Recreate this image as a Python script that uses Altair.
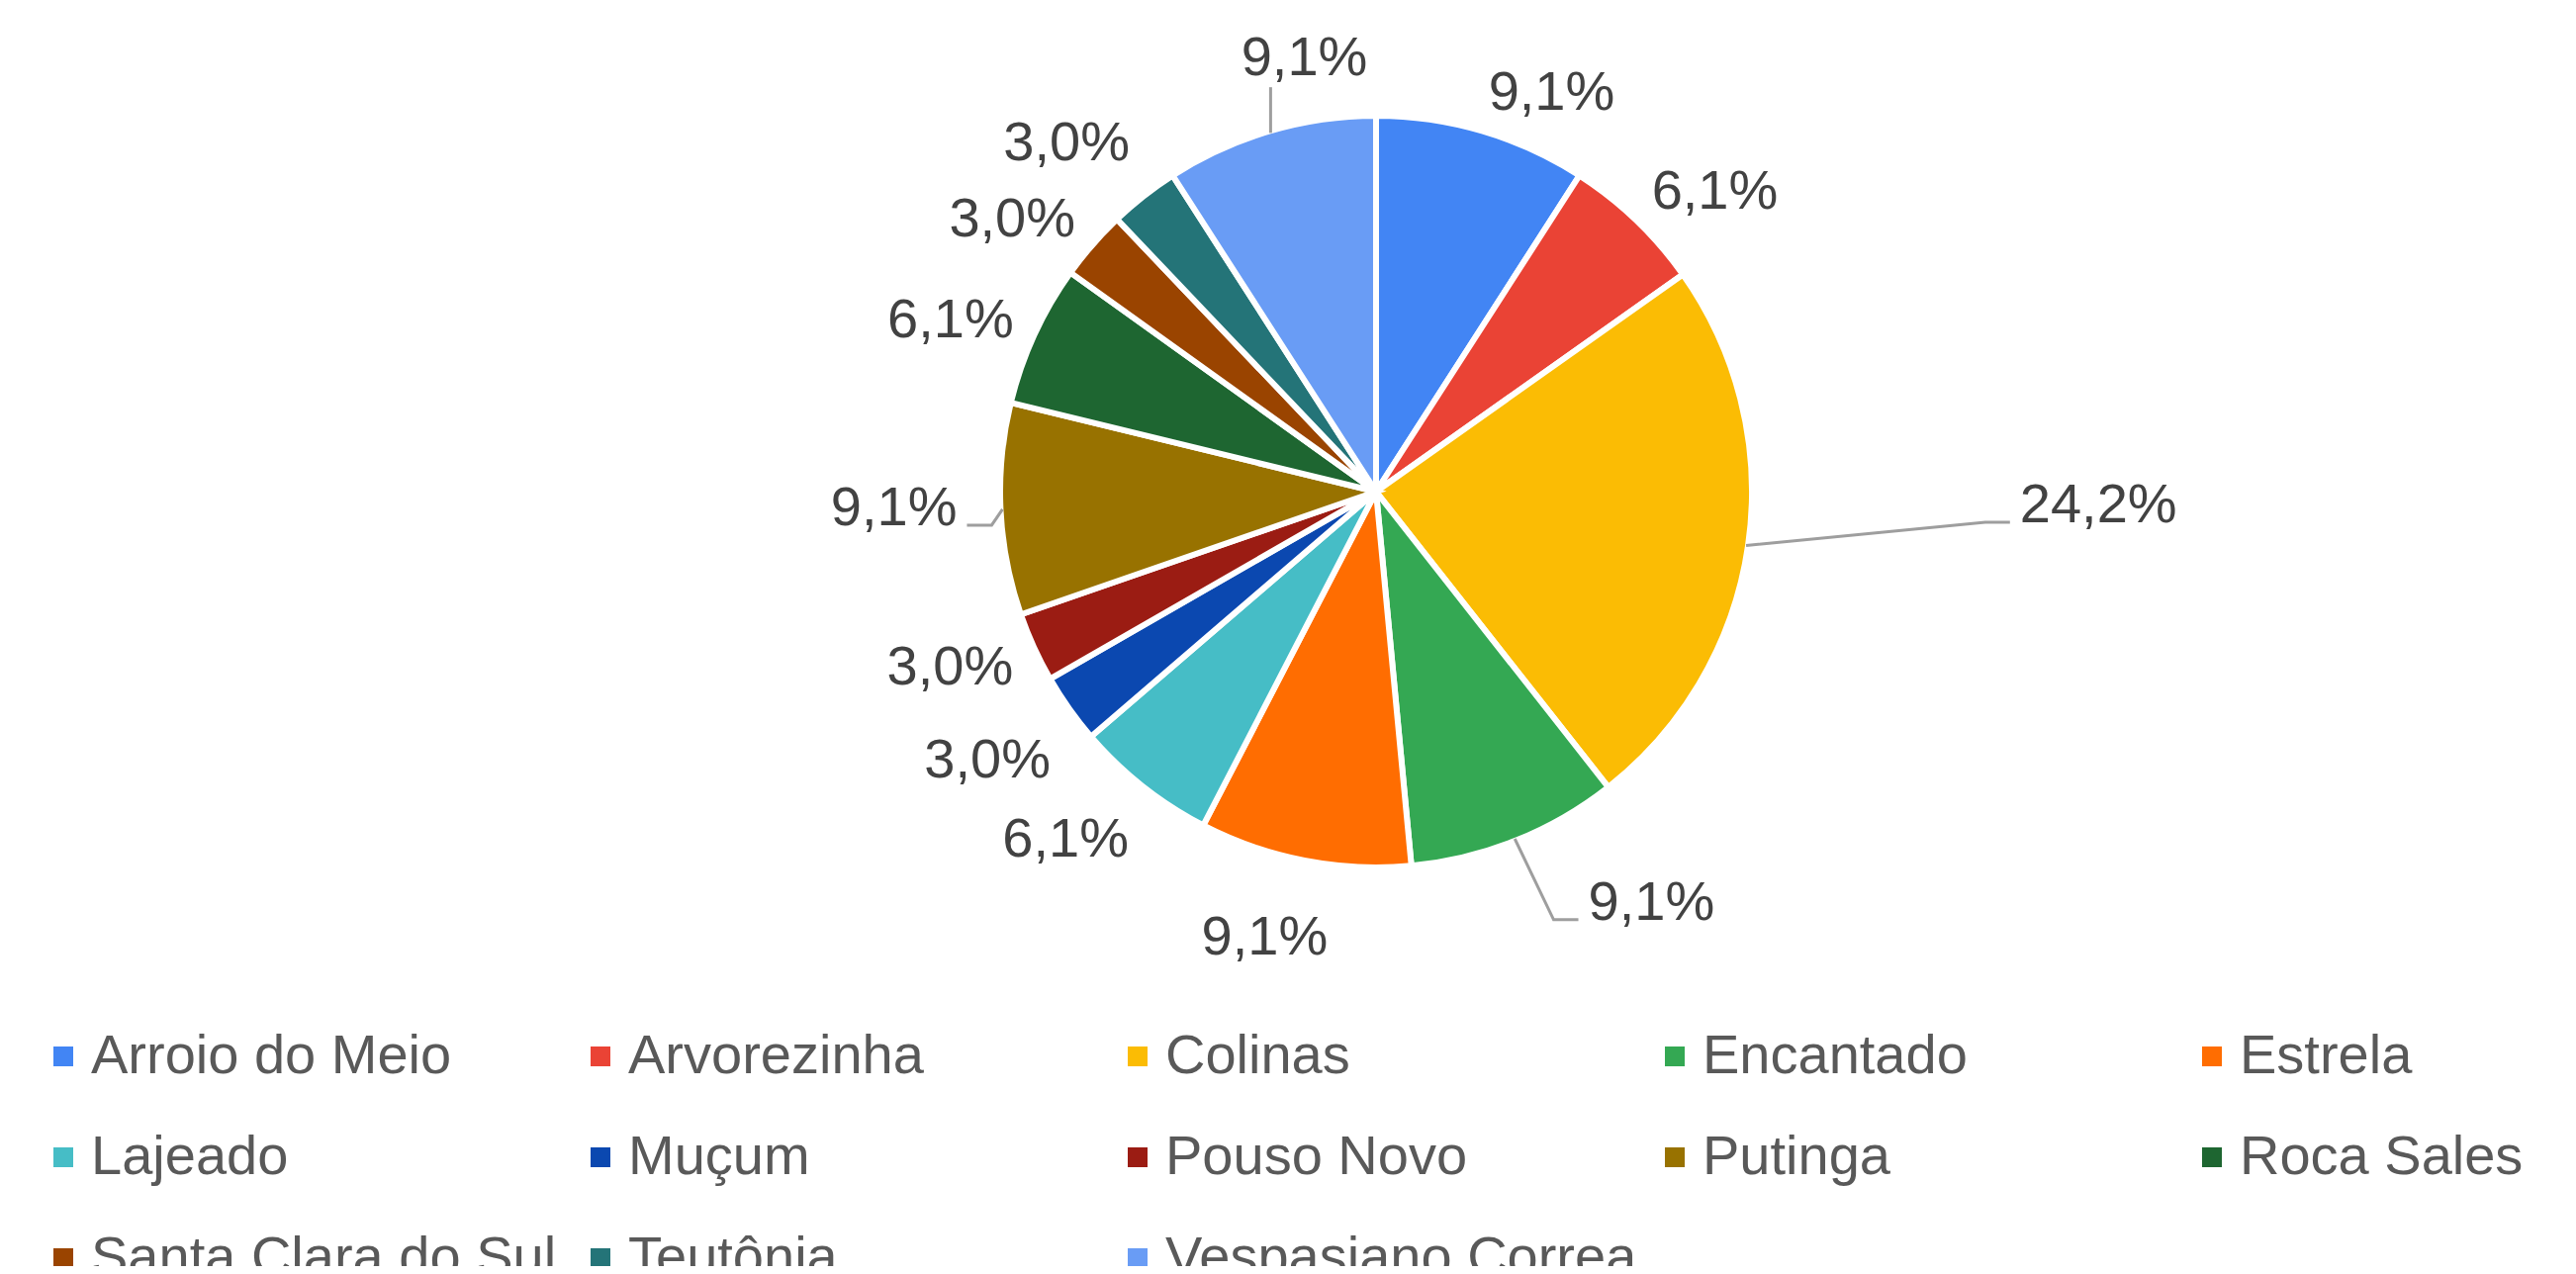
import numpy as np
import pandas as pd
import altair as alt

# ---------------- data ----------------
categories = ["Arroio do Meio", "Arvorezinha", "Colinas", "Encantado", "Estrela",
              "Lajeado", "Muçum", "Pouso Novo", "Putinga", "Roca Sales",
              "Santa Clara do Sul", "Teutônia", "Vespasiano Correa"]
shares = [9.1, 6.1, 24.2, 9.1, 9.1, 6.1, 3.0, 3.0, 9.1, 6.1, 3.0, 3.0, 9.1]
colors = ["#4285F4", "#EA4335", "#FBBC04", "#34A853", "#FF6D01", "#46BDC6",
          "#0B48B0", "#9B1C13", "#987200", "#1E6631", "#9A4400", "#247478", "#699CF5"]

# ---------------- layout / style ----------------
W, H = 2588, 1272
CX, CY = 1383, 489
R_OUT = 380
R_EDGE = 378
R_LABEL = 403
FONT = "Liberation Sans"
LABEL_SIZE = 56
HALF_CAP = 20
LABEL_COLOR = "#424242"
LEGEND_COLOR = "#595959"
LEADER_COLOR = "#9e9e9e"

# label placement nudges (px) for labels that are displaced from their slice
LABEL_NUDGE = {"Colinas": (252, -50), "Encantado": (65, 20), "Estrela": (28, 33),
               "Putinga": (-21, -6), "Vespasiano Correa": (105, -35),
               "Teutônia": (0, -22), "Muçum": (0, 25), "Lajeado": (0, 17)}
LEADERS = ["Colinas", "Encantado", "Putinga", "Vespasiano Correa"]

CHAR_W = {",": 0.278, "%": 0.889}


def text_w(s):
    return sum(CHAR_W.get(ch, 0.556) for ch in s) * LABEL_SIZE


vals = np.array(shares, dtype=float)
ends = np.cumsum(vals)
starts = ends - vals
ang = (starts + vals / 2) / vals.sum() * 2 * np.pi
labels = [f"{v:.1f}%".replace(".", ",") for v in shares]

lab_rows, line_rows = [], []
for cat, a, lab in zip(categories, ang, labels):
    s, c = np.sin(a), np.cos(a)
    px = CX + R_LABEL * s
    cyt = CY - R_LABEL * c - HALF_CAP * c
    side = "right" if s >= 0 else "left"
    dx, dy = LABEL_NUDGE.get(cat, (0, 0))
    px += dx
    cyt += dy
    base = cyt + HALF_CAP
    lab_rows.append(dict(cat=cat, label=lab, lx=px, ly=base, side=side))
    if cat in LEADERS:
        ex, ey = CX + R_EDGE * s, CY - R_EDGE * c
        w = text_w(lab)
        x0, x1 = (px, px + w) if side == "right" else (px - w, px)
        if x0 <= ex <= x1:
            pts = [(ex, ey), (ex, base + 12)]
        elif side == "right":
            end = x0 - 10
            pts = [(ex, ey), (end - 25, base), (end, base)]
        else:
            end = x1 + 10
            pts = [(ex, ey), (end + 25, base), (end, base)]
        for k, (x, y) in enumerate(pts):
            line_rows.append(dict(cat=cat, k=k, x=x, y=y))

pie_df = pd.DataFrame({"cat": categories, "share": shares, "idx": list(range(len(categories)))})
lab_df = pd.DataFrame(lab_rows)
line_df = pd.DataFrame(line_rows)

xs = alt.Scale(domain=[0, W], range=[0, W], nice=False, zero=False)
ys = alt.Scale(domain=[0, H], range=[0, H], nice=False, zero=False)

legend = alt.Legend(
    orient="none", legendX=28, legendY=1032, columns=5, direction="horizontal",
    title=None, symbolType="square", symbolSize=400, symbolStrokeWidth=0,
    labelFont=FONT, labelFontSize=56, labelColor=LEGEND_COLOR, labelLimit=2000,
    labelOffset=0, columnPadding=10, rowPadding=46, gridAlign="all", padding=0,
)

pie = alt.Chart(pie_df).mark_arc(outerRadius=R_OUT, stroke="white", strokeWidth=6).encode(
    theta=alt.Theta("share:Q", stack=True),
    color=alt.Color("cat:N", scale=alt.Scale(domain=categories, range=colors), legend=legend),
    order=alt.Order("idx:Q"),
    x=alt.value(CX),
    y=alt.value(CY),
)

leaders = alt.Chart(line_df).mark_line(color=LEADER_COLOR, strokeWidth=3).encode(
    x=alt.X("x:Q", scale=xs, axis=None),
    y=alt.Y("y:Q", scale=ys, axis=None),
    detail="cat:N",
    order="k:Q",
)

text_right = alt.Chart(lab_df).transform_filter("datum.side == 'right'").mark_text(
    align="left", baseline="alphabetic", font=FONT, fontSize=LABEL_SIZE, color=LABEL_COLOR
).encode(
    x=alt.X("lx:Q", scale=xs, axis=None),
    y=alt.Y("ly:Q", scale=ys, axis=None),
    text="label:N",
)

text_left = alt.Chart(lab_df).transform_filter("datum.side == 'left'").mark_text(
    align="right", baseline="alphabetic", font=FONT, fontSize=LABEL_SIZE, color=LABEL_COLOR
).encode(
    x=alt.X("lx:Q", scale=xs, axis=None),
    y=alt.Y("ly:Q", scale=ys, axis=None),
    text="label:N",
)

chart = alt.layer(pie, leaders, text_right, text_left).properties(
    width=W, height=H, autosize=alt.AutoSizeParams(type="none"), padding=0,
    background="white",
).configure_view(stroke=None)

chart.save("out.html", embed_options={"renderer": "svg", "actions": False})
